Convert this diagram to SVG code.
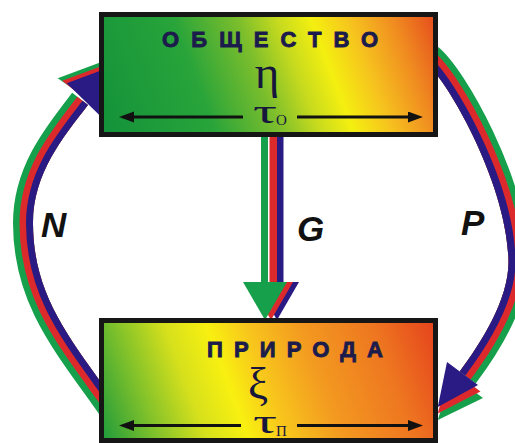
<svg xmlns="http://www.w3.org/2000/svg" width="515" height="443" viewBox="0 0 515 443">
<style>
.box{stroke:#161616;stroke-width:5}
.title{font-family:"Liberation Sans",Arial,sans-serif;font-weight:bold;font-size:22px;fill:#1c1c4c;stroke:#1c1c4c;stroke-width:0.9}
.greek{font-family:"Liberation Serif","Times New Roman",serif;fill:#16163c}
.sub{font-family:"Liberation Serif","Times New Roman",serif;font-size:15px;fill:#16163c}
.tline{stroke:#111;stroke-width:3;fill:none}
.lbl{font-family:"Liberation Sans",Arial,sans-serif;font-weight:bold;font-style:italic;font-size:35px;fill:#111}
.g{fill:#17a04c}.r{fill:#dc2a2c}.n{fill:#2a1a84}
.bg{stroke:#17a04c;stroke-width:40;fill:none}
.br{stroke:#dc2a2c;stroke-width:27;fill:none}
.bn{stroke:#2a1a84;stroke-width:14;fill:none}
</style>
<defs>
<linearGradient id="gTop" gradientUnits="userSpaceOnUse" x1="100" y1="137" x2="440" y2="10.5">
<stop offset="0" stop-color="#13913a"/>
<stop offset="0.3" stop-color="#28a43a"/>
<stop offset="0.47" stop-color="#7cbe2c"/>
<stop offset="0.57" stop-color="#c6da1e"/>
<stop offset="0.66" stop-color="#f4ef10"/>
<stop offset="0.76" stop-color="#f6c21e"/>
<stop offset="0.87" stop-color="#f08c20"/>
<stop offset="1" stop-color="#e4421c"/>
</linearGradient>
<linearGradient id="gBot" gradientUnits="userSpaceOnUse" x1="100" y1="443" x2="439.3" y2="316.7">
<stop offset="0" stop-color="#18983c"/>
<stop offset="0.14" stop-color="#78be2c"/>
<stop offset="0.28" stop-color="#d6e01c"/>
<stop offset="0.39" stop-color="#f8f010"/>
<stop offset="0.49" stop-color="#f8c61c"/>
<stop offset="0.63" stop-color="#f39a20"/>
<stop offset="0.82" stop-color="#ee7620"/>
<stop offset="1" stop-color="#e43e1c"/>
</linearGradient>
<clipPath id="clipN"><path d="M140 470 L140 440 L125.4 416.3 L108 392 C67.4 335.3 33 293 33 223 C33 173 63.6 136.6 88 105 L112 74 L112 -20 L-20 -20 L-20 470 Z"/></clipPath>
<clipPath id="clipP"><path d="M405 46.5 L425 62 C447 79 508 185 508.5 262 C508.5 300 480.7 343.4 459.7 371.4 L435.7 403.4 L435.7 500 L600 500 L600 -20 L405 -20 Z"/></clipPath>
<marker id="ah" markerUnits="userSpaceOnUse" markerWidth="16" markerHeight="12" refX="0" refY="5.5" orient="auto"><path d="M0 0 L15 5.5 L0 11 Z" fill="#111"/></marker>
</defs>

<g id="connectors">
<g id="arc-N">
<g clip-path="url(#clipN)">
<path class="bg" d="M125.4 416.3 L108 392 C67.4 335.3 33 293 33 223 C33 173 63.6 136.6 88 105"/>
<path class="br" d="M125.4 416.3 L108 392 C67.4 335.3 33 293 33 223 C33 173 63.6 136.6 88 105"/>
<path class="bn" d="M125.4 416.3 L108 392 C67.4 335.3 33 293 33 223 C33 173 63.6 136.6 88 105"/>
</g>
<polygon class="g" points="57.7,78.3 102.7,61.6 102,109"/>
<polygon class="r" points="62.2,80.8 107.2,64.1 102,112"/>
<polygon class="n" points="66.7,83.3 111.7,66.6 101.1,116.8"/>
</g>
<g id="arc-P">
<g clip-path="url(#clipP)">
<path class="bg" d="M405 46.5 L425 62 C447 79 508 185 508.5 262 C508.5 300 480.7 343.4 459.7 371.4"/>
<path class="br" d="M405 46.5 L425 62 C447 79 508 185 508.5 262 C508.5 300 480.7 343.4 459.7 371.4"/>
<path class="bn" d="M405 46.5 L425 62 C447 79 508 185 508.5 262 C508.5 300 480.7 343.4 459.7 371.4"/>
</g>
<polygon class="g" points="452,375 483,398 437.8,419.9"/>
<polygon class="r" points="449.5,368.5 480.5,391.5 437.8,413.4"/>
<polygon class="n" points="447,362 478,385 437.8,406.9"/>
</g>
<g id="arrow-G">
<rect class="g" x="261" y="136" width="7" height="148"/>
<rect class="r" x="269.5" y="136" width="7.5" height="148"/>
<rect class="n" x="277" y="136" width="6.5" height="148"/>
<polygon class="n" points="255,282 299,282 277,320"/>
<polygon class="r" points="249,282 293,282 271,320"/>
<polygon class="g" points="243,282 287,282 265,320"/>
</g>
<g id="labels">
<text class="lbl" x="41" y="237">N</text>
<text class="lbl" x="297" y="241">G</text>
<text class="lbl" x="461" y="235">P</text>
</g>
</g>

<g id="node-obshchestvo">
<rect class="box" x="101.5" y="14.5" width="334" height="120" fill="url(#gTop)"/>
<text class="title" x="162" y="47" textLength="216" lengthAdjust="spacing">ОБЩЕСТВО</text>
<text class="greek" x="267" y="88" font-size="47" text-anchor="middle">η</text>
<line class="tline" x1="243" y1="117" x2="134" y2="117" marker-end="url(#ah)"/>
<line class="tline" x1="297" y1="117" x2="408" y2="117" marker-end="url(#ah)"/>
<text class="greek" x="253" y="123" font-size="34" textLength="24" lengthAdjust="spacingAndGlyphs">τ</text>
<text class="sub" x="276" y="125">О</text>
</g>

<g id="node-priroda">
<rect class="box" x="101.5" y="320.5" width="334" height="120" fill="url(#gBot)"/>
<text class="title" x="207" y="357" textLength="176" lengthAdjust="spacing">ПРИРОДА</text>
<text class="greek" x="258" y="398" font-size="45" text-anchor="middle">ξ</text>
<line class="tline" x1="241" y1="425.5" x2="134" y2="425.5" marker-end="url(#ah)"/>
<line class="tline" x1="297" y1="425.5" x2="408" y2="425.5" marker-end="url(#ah)"/>
<text class="greek" x="253" y="433" font-size="34" textLength="24" lengthAdjust="spacingAndGlyphs">τ</text>
<text class="sub" x="276" y="436">П</text>
</g>
</svg>
